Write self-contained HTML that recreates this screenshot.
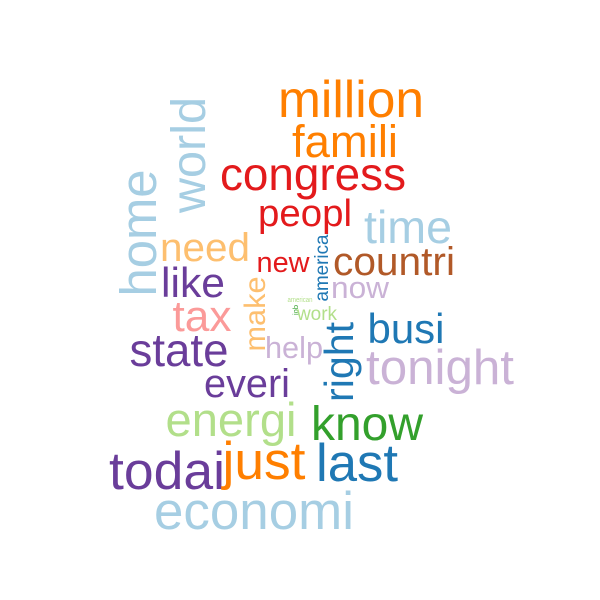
<!DOCTYPE html>
<html><head><meta charset="utf-8"><style>html,body{margin:0;padding:0;background:#fff}svg{display:block}text{font-family:"Liberation Sans",Arial,sans-serif}</style></head>
<body>
<svg id="cloud" width="600" height="600" viewBox="0 0 600 600"></svg>
<script>
const words = ["million","famili","congress","world","home","time","peopl","need","new","america","countri","now","like","make","tax","american","job","work","busi","right","state","help","tonight","everi","energi","know","todai","just","last","economi"];
const sizes = [52,45,46,48,51,46,38,40,29,19,40,31,42,30,44,7,7,19,42,41,46,31,49,40,47,48,53,53,53,53];
const colors = ["#FF7F00","#FF7F00","#E31A1C","#A6CEE3","#A6CEE3","#A6CEE3","#E31A1C","#FDBF6F","#E31A1C","#1F78B4","#B15928","#CAB2D6","#6A3D9A","#FDBF6F","#FB9A99","#B2DF8A","#33A02C","#B2DF8A","#1F78B4","#1F78B4","#6A3D9A","#CAB2D6","#CAB2D6","#6A3D9A","#B2DF8A","#33A02C","#6A3D9A","#FF7F00","#1F78B4","#A6CEE3"];
const widths = [146,106,186,116,127,88,94,90,53,67,122,58,64,75,59,25,10,40,77,80,99,58,148,86,131,112,116,83,82,200];
const layout = [[351,117,0],[345,157,0],[313,190,0],[205,155,1],[156,233,1],[408,243,0],[305,226,0],[205,261,0],[283,272,0],[328,268,1],[394,275,0],[360,298,0],[193,297,0],[265,314,1],[202,331,0],[300,302,0],[298,310,1],[317,320,0],[406,343,0],[353,362,1],[179,366,0],[294,358,0],[440,384,0],[247,397,0],[231,436,0],[367,440,0],[167,489,0],[264,479,0],[357,481,0],[254,529,0]];
const svg = document.getElementById('cloud');
const NS = 'http://www.w3.org/2000/svg';
words.forEach((w,i)=>{
  const t = document.createElementNS(NS,'text');
  const [x,y,rot] = layout[i];
  
  
  t.setAttribute('text-anchor','middle');
  t.setAttribute('font-size', sizes[i]);
  t.setAttribute('fill', colors[i]);
  t.setAttribute('textLength', widths[i]);
  t.setAttribute('lengthAdjust','spacingAndGlyphs');
  t.setAttribute('x',0); t.setAttribute('y',0);
  t.setAttribute('transform','translate('+x+','+y+')'+(rot?' rotate(-90)':''));
  t.textContent = w;
  svg.appendChild(t);
});
</script>
</body></html>
